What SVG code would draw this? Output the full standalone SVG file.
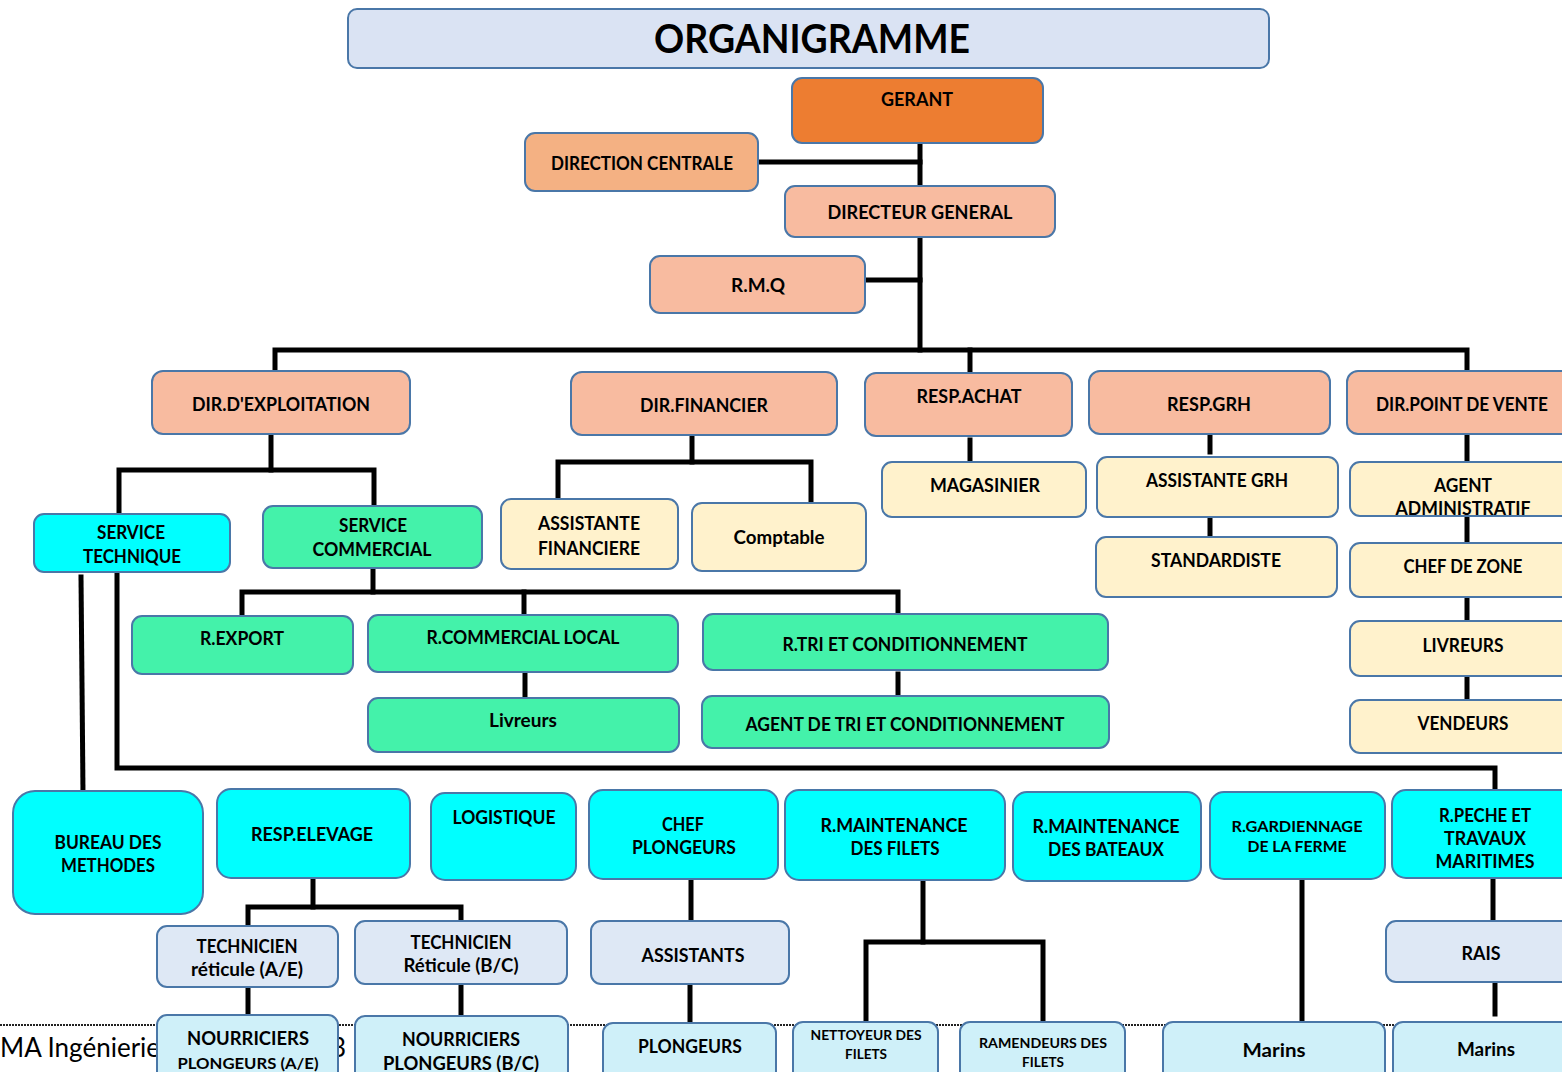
<svg xmlns="http://www.w3.org/2000/svg" width="1562" height="1072" viewBox="0 0 1562 1072">
  <style>
    .box { stroke: #4a77a8; stroke-width: 2; }
    .title { fill: #dae3f3; }
    .boss { fill: #ed7d31; }
    .central { fill: #f4b183; }
    .dir { fill: #f8bba0; }
    .cream { fill: #fff2cc; }
    .green { fill: #44f2aa; }
    .cyan { fill: #00ffff; }
    .pale { fill: #dee8f5; }
    .ice { fill: #cff0f9; }
    text { font-family: Lato, "Open Sans", "Liberation Sans", sans-serif; fill: #000; }
    .t { font-weight: 700; font-size: 18px; text-anchor: middle; }
    .big { font-size: 40px; }
    .s16 { font-size: 16px; }
    .s14 { font-size: 14px; }
    .s19 { font-size: 19px; }
    .wire { stroke: #000; stroke-width: 5; fill: none; stroke-linecap: square; }
    .foot { font-size: 26px; font-weight: 400; }
  </style>

  <rect width="1562" height="1072" fill="#ffffff"/>

  <!-- page footer behind the chart -->
  <g id="footer">
    <line x1="0" y1="1025" x2="1562" y2="1025" stroke="#222" stroke-width="2" stroke-dasharray="2 1"/>
    <text class="foot" x="0" y="1057">MA Ingénierie</text>
    <text class="foot" x="331" y="1057">3</text>
  </g>

  <!-- connectors -->
  <g id="connectors" class="wire">
    <path d="M920 143 V350"/>
    <path d="M758 162 H920"/>
    <path d="M865 280 H920"/>
    <path d="M275 372 V350 H1467 V372"/>
    <path d="M970 350 V373"/>

    <path d="M271 434 V470"/>
    <path d="M119 514 V470 H374 V506"/>

    <path d="M692 437 V462"/>
    <path d="M558 499 V462 H811 V503"/>

    <path d="M970 440 V461"/>
    <path d="M1210 434 V452"/>
    <path d="M1210 519 V537"/>
    <path d="M1467 437 V462"/>
    <path d="M1467 515 V543"/>
    <path d="M1467 597 V621"/>
    <path d="M1467 676 V700"/>

    <path d="M373 568 V592"/>
    <path d="M242 616 V592 H898 V614"/>
    <path d="M524 592 V615"/>
    <path d="M525 672 V698"/>
    <path d="M898 674 V696"/>

    <path d="M81 577 L83 793"/>
    <path d="M117 572 V768 H1495 V791"/>

    <path d="M313 878 V907"/>
    <path d="M248 926 V907 H461 V921"/>
    <path d="M691 879 V921"/>
    <path d="M923 880 V942"/>
    <path d="M866 1022 V942 H1043 V1022"/>
    <path d="M1302 882 V1022"/>
    <path d="M1493 881 V920"/>
    <path d="M1495 983 V1014"/>
    <path d="M248 987 V1015"/>
    <path d="M461 984 V1015"/>
    <path d="M690 984 V1023"/>
  </g>

  <!-- heading -->
  <g id="n-title">
    <rect class="box title" x="348" y="9" width="921" height="59" rx="9"/>
    <text class="t big" x="812" y="53" textLength="316" lengthAdjust="spacingAndGlyphs">ORGANIGRAMME</text>
  </g>

  <!-- management -->
  <g id="n-gerant">
    <rect class="box boss" x="792" y="78" width="251" height="65" rx="10"/>
    <text class="t" x="917" y="106" textLength="72" lengthAdjust="spacingAndGlyphs">GERANT</text>
  </g>
  <g id="n-direction-centrale">
    <rect class="box central" x="525" y="133" width="233" height="58" rx="10"/>
    <text class="t" x="642" y="170" textLength="182" lengthAdjust="spacingAndGlyphs">DIRECTION CENTRALE</text>
  </g>
  <g id="n-directeur-general">
    <rect class="box dir" x="785" y="186" width="270" height="51" rx="10"/>
    <text class="t" x="920" y="219" textLength="185" lengthAdjust="spacingAndGlyphs">DIRECTEUR GENERAL</text>
  </g>
  <g id="n-rmq">
    <rect class="box dir" x="650" y="256" width="215" height="57" rx="10"/>
    <text class="t" x="758" y="292" textLength="54" lengthAdjust="spacingAndGlyphs">R.M.Q</text>
  </g>

  <!-- directions -->
  <g id="n-dir-exploitation">
    <rect class="box dir" x="152" y="371" width="258" height="63" rx="11"/>
    <text class="t" x="281" y="411" textLength="178" lengthAdjust="spacingAndGlyphs">DIR.D'EXPLOITATION</text>
  </g>
  <g id="n-dir-financier">
    <rect class="box dir" x="571" y="372" width="266" height="63" rx="11"/>
    <text class="t" x="704" y="412" textLength="128" lengthAdjust="spacingAndGlyphs">DIR.FINANCIER</text>
  </g>
  <g id="n-resp-achat">
    <rect class="box dir" x="865" y="373" width="207" height="63" rx="11"/>
    <text class="t" x="969" y="403" textLength="105" lengthAdjust="spacingAndGlyphs">RESP.ACHAT</text>
  </g>
  <g id="n-resp-grh">
    <rect class="box dir" x="1089" y="371" width="241" height="63" rx="11"/>
    <text class="t" x="1209" y="411" textLength="84" lengthAdjust="spacingAndGlyphs">RESP.GRH</text>
  </g>
  <g id="n-dir-point-vente">
    <rect class="box dir" x="1347" y="371" width="230" height="63" rx="11"/>
    <text class="t" x="1462" y="411" textLength="172" lengthAdjust="spacingAndGlyphs">DIR.POINT DE VENTE</text>
  </g>

  <!-- exploitation services -->
  <g id="n-service-technique">
    <rect class="box cyan" x="34" y="514" width="196" height="58" rx="10"/>
    <text class="t" x="131" y="539" textLength="68" lengthAdjust="spacingAndGlyphs">SERVICE</text>
    <text class="t" x="132" y="563" textLength="98" lengthAdjust="spacingAndGlyphs">TECHNIQUE</text>
  </g>
  <g id="n-service-commercial">
    <rect class="box green" x="263" y="506" width="219" height="62" rx="10"/>
    <text class="t" x="373" y="532" textLength="68" lengthAdjust="spacingAndGlyphs">SERVICE</text>
    <text class="t" x="372" y="556" textLength="119" lengthAdjust="spacingAndGlyphs">COMMERCIAL</text>
  </g>

  <!-- finance -->
  <g id="n-assistante-financiere">
    <rect class="box cream" x="501" y="499" width="177" height="70" rx="10"/>
    <text class="t" x="589" y="530" textLength="102" lengthAdjust="spacingAndGlyphs">ASSISTANTE</text>
    <text class="t" x="589" y="555" textLength="102" lengthAdjust="spacingAndGlyphs">FINANCIERE</text>
  </g>
  <g id="n-comptable">
    <rect class="box cream" x="692" y="503" width="174" height="68" rx="10"/>
    <text class="t" x="779" y="544" textLength="91" lengthAdjust="spacingAndGlyphs">Comptable</text>
  </g>

  <!-- purchasing / HR -->
  <g id="n-magasinier">
    <rect class="box cream" x="882" y="462" width="204" height="55" rx="10"/>
    <text class="t" x="985" y="492" textLength="110" lengthAdjust="spacingAndGlyphs">MAGASINIER</text>
  </g>
  <g id="n-assistante-grh">
    <rect class="box cream" x="1097" y="457" width="241" height="60" rx="10"/>
    <text class="t" x="1217" y="487" textLength="142" lengthAdjust="spacingAndGlyphs">ASSISTANTE GRH</text>
  </g>
  <g id="n-standardiste">
    <rect class="box cream" x="1096" y="537" width="241" height="60" rx="10"/>
    <text class="t" x="1216" y="567" textLength="130" lengthAdjust="spacingAndGlyphs">STANDARDISTE</text>
  </g>

  <!-- point of sale -->
  <g id="n-agent-administratif">
    <rect class="box cream" x="1350" y="462" width="225" height="54" rx="10"/>
    <text class="t" x="1463" y="492" textLength="58" lengthAdjust="spacingAndGlyphs">AGENT</text>
    <text class="t" x="1463" y="515" textLength="135" lengthAdjust="spacingAndGlyphs">ADMINISTRATIF</text>
  </g>
  <g id="n-chef-zone">
    <rect class="box cream" x="1350" y="543" width="225" height="54" rx="10"/>
    <text class="t" x="1463" y="573" textLength="119" lengthAdjust="spacingAndGlyphs">CHEF DE ZONE</text>
  </g>
  <g id="n-livreurs-pdv">
    <rect class="box cream" x="1350" y="621" width="225" height="55" rx="10"/>
    <text class="t" x="1463" y="652" textLength="81" lengthAdjust="spacingAndGlyphs">LIVREURS</text>
  </g>
  <g id="n-vendeurs">
    <rect class="box cream" x="1350" y="700" width="225" height="53" rx="10"/>
    <text class="t" x="1463" y="730" textLength="91" lengthAdjust="spacingAndGlyphs">VENDEURS</text>
  </g>

  <!-- commercial -->
  <g id="n-r-export">
    <rect class="box green" x="132" y="616" width="221" height="58" rx="10"/>
    <text class="t" x="242" y="645" textLength="84" lengthAdjust="spacingAndGlyphs">R.EXPORT</text>
  </g>
  <g id="n-r-commercial-local">
    <rect class="box green" x="368" y="615" width="310" height="57" rx="10"/>
    <text class="t" x="523" y="644" textLength="193" lengthAdjust="spacingAndGlyphs">R.COMMERCIAL LOCAL</text>
  </g>
  <g id="n-r-tri">
    <rect class="box green" x="703" y="614" width="405" height="56" rx="10"/>
    <text class="t" x="905" y="651" textLength="245" lengthAdjust="spacingAndGlyphs">R.TRI ET CONDITIONNEMENT</text>
  </g>
  <g id="n-livreurs">
    <rect class="box green" x="368" y="698" width="311" height="54" rx="10"/>
    <text class="t" x="523" y="727" textLength="68" lengthAdjust="spacingAndGlyphs">Livreurs</text>
  </g>
  <g id="n-agent-tri">
    <rect class="box green" x="702" y="696" width="407" height="52" rx="10"/>
    <text class="t" x="905" y="731" textLength="319" lengthAdjust="spacingAndGlyphs">AGENT DE TRI ET CONDITIONNEMENT</text>
  </g>

  <!-- technical units -->
  <g id="n-bureau-methodes">
    <rect class="box cyan" x="13" y="791" width="190" height="123" rx="22"/>
    <text class="t" x="108" y="849" textLength="107" lengthAdjust="spacingAndGlyphs">BUREAU DES</text>
    <text class="t" x="108" y="872" textLength="94" lengthAdjust="spacingAndGlyphs">METHODES</text>
  </g>
  <g id="n-resp-elevage">
    <rect class="box cyan" x="217" y="789" width="193" height="89" rx="14"/>
    <text class="t" x="312" y="841" textLength="122" lengthAdjust="spacingAndGlyphs">RESP.ELEVAGE</text>
  </g>
  <g id="n-logistique">
    <rect class="box cyan" x="431" y="793" width="145" height="87" rx="14"/>
    <text class="t" x="504" y="824" textLength="103" lengthAdjust="spacingAndGlyphs">LOGISTIQUE</text>
  </g>
  <g id="n-chef-plongeurs">
    <rect class="box cyan" x="589" y="790" width="189" height="89" rx="14"/>
    <text class="t" x="683" y="831" textLength="42" lengthAdjust="spacingAndGlyphs">CHEF</text>
    <text class="t" x="684" y="854" textLength="104" lengthAdjust="spacingAndGlyphs">PLONGEURS</text>
  </g>
  <g id="n-maint-filets">
    <rect class="box cyan" x="785" y="790" width="220" height="90" rx="14"/>
    <text class="t" x="894" y="832" textLength="147" lengthAdjust="spacingAndGlyphs">R.MAINTENANCE</text>
    <text class="t" x="895" y="855" textLength="89" lengthAdjust="spacingAndGlyphs">DES FILETS</text>
  </g>
  <g id="n-maint-bateaux">
    <rect class="box cyan" x="1013" y="792" width="188" height="89" rx="14"/>
    <text class="t" x="1106" y="833" textLength="147" lengthAdjust="spacingAndGlyphs">R.MAINTENANCE</text>
    <text class="t" x="1106" y="856" textLength="116" lengthAdjust="spacingAndGlyphs">DES BATEAUX</text>
  </g>
  <g id="n-gardiennage">
    <rect class="box cyan" x="1210" y="792" width="175" height="87" rx="14"/>
    <text class="t s16" x="1297" y="832" textLength="131" lengthAdjust="spacingAndGlyphs">R.GARDIENNAGE</text>
    <text class="t s16" x="1297" y="852" textLength="99" lengthAdjust="spacingAndGlyphs">DE LA FERME</text>
  </g>
  <g id="n-peche">
    <rect class="box cyan" x="1392" y="790" width="185" height="88" rx="14"/>
    <text class="t" x="1485" y="822" textLength="92" lengthAdjust="spacingAndGlyphs">R.PECHE ET</text>
    <text class="t" x="1485" y="845" textLength="82" lengthAdjust="spacingAndGlyphs">TRAVAUX</text>
    <text class="t" x="1485" y="868" textLength="99" lengthAdjust="spacingAndGlyphs">MARITIMES</text>
  </g>

  <!-- technicians and assistants -->
  <g id="n-tech-ae">
    <rect class="box pale" x="157" y="926" width="181" height="61" rx="10"/>
    <text class="t" x="247" y="953" textLength="101" lengthAdjust="spacingAndGlyphs">TECHNICIEN</text>
    <text class="t" x="247" y="976" textLength="112" lengthAdjust="spacingAndGlyphs">réticule (A/E)</text>
  </g>
  <g id="n-tech-bc">
    <rect class="box pale" x="355" y="921" width="212" height="63" rx="10"/>
    <text class="t" x="461" y="949" textLength="101" lengthAdjust="spacingAndGlyphs">TECHNICIEN</text>
    <text class="t" x="461" y="972" textLength="115" lengthAdjust="spacingAndGlyphs">Réticule (B/C)</text>
  </g>
  <g id="n-assistants">
    <rect class="box pale" x="591" y="921" width="198" height="63" rx="10"/>
    <text class="t" x="693" y="962" textLength="103" lengthAdjust="spacingAndGlyphs">ASSISTANTS</text>
  </g>
  <g id="n-rais">
    <rect class="box pale" x="1386" y="921" width="190" height="61" rx="10"/>
    <text class="t" x="1481" y="960" textLength="39" lengthAdjust="spacingAndGlyphs">RAIS</text>
  </g>

  <!-- field staff -->
  <g id="n-nourriciers-ae">
    <rect class="box ice" x="157" y="1015" width="181" height="70" rx="10"/>
    <text class="t" x="248" y="1045" textLength="122" lengthAdjust="spacingAndGlyphs">NOURRICIERS</text>
    <text class="t s16" x="248" y="1069" textLength="141" lengthAdjust="spacingAndGlyphs">PLONGEURS (A/E)</text>
  </g>
  <g id="n-nourriciers-bc">
    <rect class="box ice" x="355" y="1016" width="213" height="70" rx="10"/>
    <text class="t" x="461" y="1046" textLength="118" lengthAdjust="spacingAndGlyphs">NOURRICIERS</text>
    <text class="t" x="461" y="1070" textLength="156" lengthAdjust="spacingAndGlyphs">PLONGEURS  (B/C)</text>
  </g>
  <g id="n-plongeurs">
    <rect class="box ice" x="603" y="1023" width="173" height="60" rx="10"/>
    <text class="t" x="690" y="1053" textLength="104" lengthAdjust="spacingAndGlyphs">PLONGEURS</text>
  </g>
  <g id="n-nettoyeur">
    <rect class="box ice" x="793" y="1022" width="145" height="60" rx="10"/>
    <text class="t s14" x="866" y="1040" textLength="111" lengthAdjust="spacingAndGlyphs">NETTOYEUR DES</text>
    <text class="t s14" x="866" y="1059" textLength="42" lengthAdjust="spacingAndGlyphs">FILETS</text>
  </g>
  <g id="n-ramendeurs">
    <rect class="box ice" x="960" y="1022" width="165" height="60" rx="10"/>
    <text class="t s14" x="1043" y="1048" textLength="128" lengthAdjust="spacingAndGlyphs">RAMENDEURS DES</text>
    <text class="t s14" x="1043" y="1067" textLength="42" lengthAdjust="spacingAndGlyphs">FILETS</text>
  </g>
  <g id="n-marins-ferme">
    <rect class="box ice" x="1163" y="1022" width="222" height="60" rx="10"/>
    <text class="t s19" x="1274" y="1057" textLength="63" lengthAdjust="spacingAndGlyphs">Marins</text>
  </g>
  <g id="n-marins-peche">
    <rect class="box ice" x="1393" y="1022" width="185" height="60" rx="10"/>
    <text class="t s19" x="1486" y="1056" textLength="58" lengthAdjust="spacingAndGlyphs">Marins</text>
  </g>
</svg>
